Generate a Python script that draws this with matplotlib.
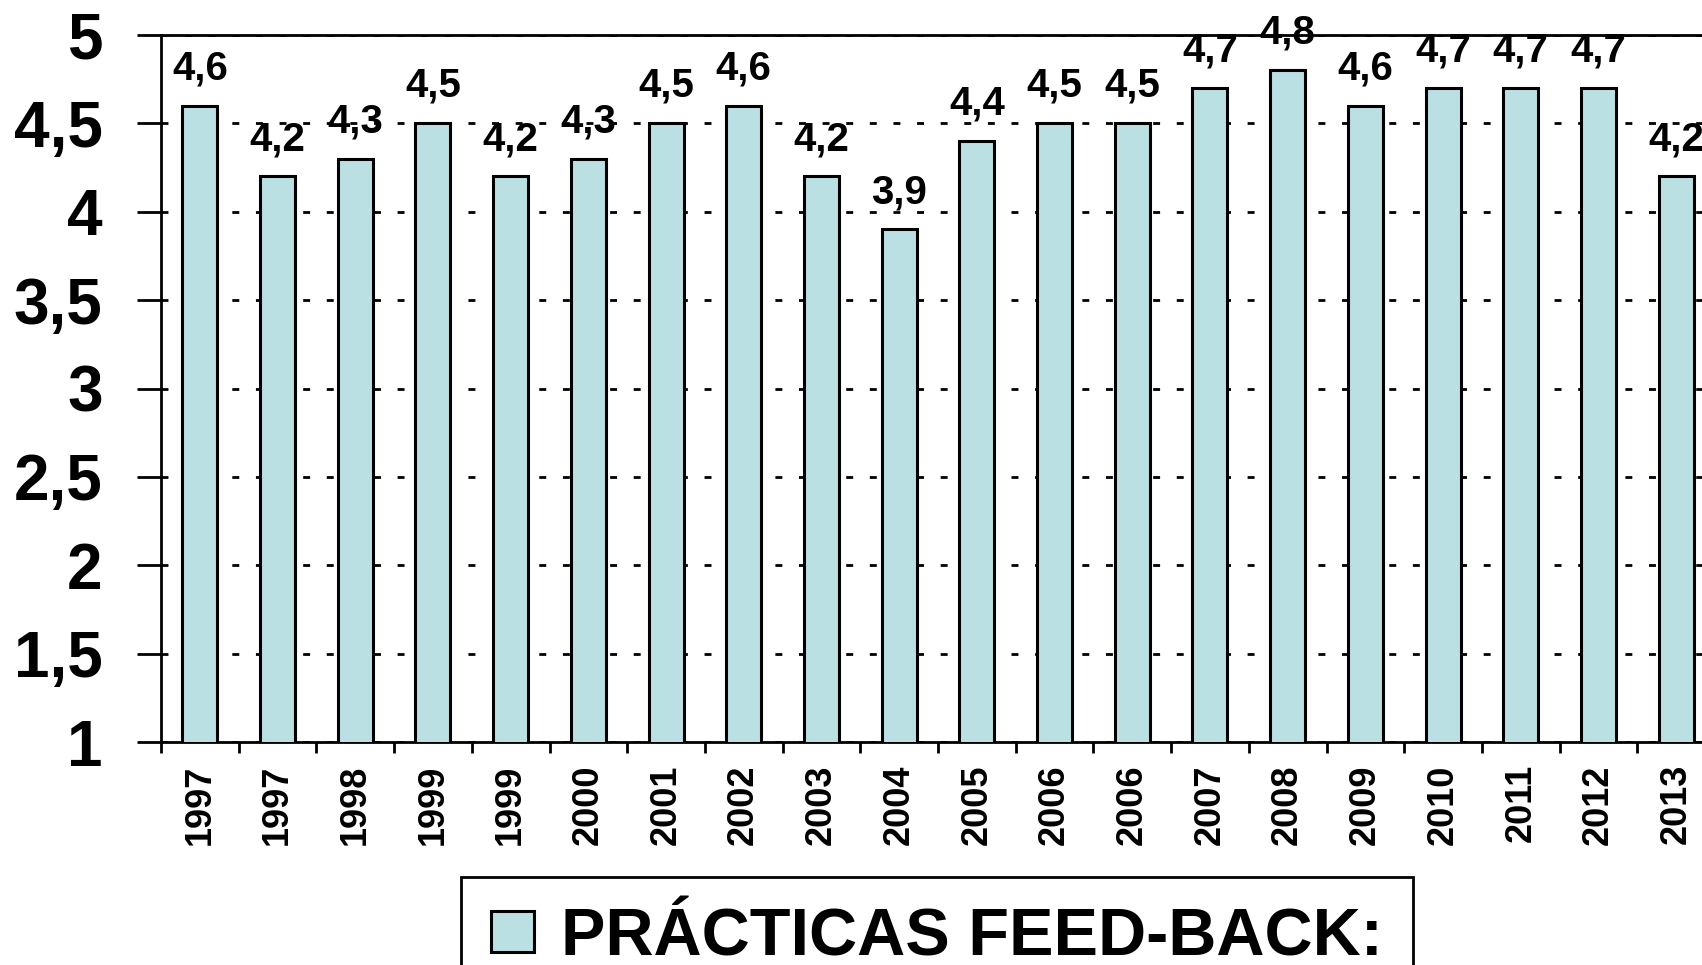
import matplotlib.pyplot as plt
from matplotlib.ticker import FixedLocator

plt.rcParams['font.family'] = ['Liberation Sans', 'DejaVu Sans']
plt.rcParams['font.weight'] = 'bold'

# Datos
years = ['1997', '1997', '1998', '1999', '1999', '2000', '2001', '2002', '2003', '2004',
         '2005', '2006', '2006', '2007', '2008', '2009', '2010', '2011', '2012', '2013']
values = [4.6, 4.2, 4.3, 4.5, 4.2, 4.3, 4.5, 4.6, 4.2, 3.9,
          4.4, 4.5, 4.5, 4.7, 4.8, 4.6, 4.7, 4.7, 4.7, 4.2]
yticks = [1, 1.5, 2, 2.5, 3, 3.5, 4, 4.5, 5]
serie = 'PRÁCTICAS FEED-BACK:'

fig = plt.figure(figsize=(17.02, 9.65), dpi=100)
ax = fig.add_axes([161 / 1702, 1 - 742 / 965, (1715 - 161) / 1702, (742 - 35) / 965])

x = list(range(len(years)))
bars = ax.bar(x, values, width=0.45, bottom=0, color='#bbe0e3', edgecolor='black',
              linewidth=2.2, zorder=3, label=serie)

# Etiquetas con coma decimal
for xi, v in zip(x, values):
    ax.annotate(f"{v:.1f}".replace('.', ','), (xi, v), xytext=(0, 19),
                textcoords='offset points', ha='center', va='baseline',
                fontsize=29, fontweight='bold')

ax.set_ylim(1, 5)
ax.set_xlim(-0.5, len(years) - 0.5)
ax.set_yticks(yticks)
ax.set_yticklabels([f"{t:g}".replace('.', ',') for t in yticks], fontsize=46, fontweight='bold')
ax.set_xticks(x)
ax.set_xticklabels(years, rotation=90, fontsize=26, fontweight='bold')
ax.xaxis.set_minor_locator(FixedLocator([i - 0.5 for i in range(len(years) + 1)]))

ax.tick_params(axis='x', which='major', length=0, pad=16)
ax.tick_params(axis='x', which='minor', length=8, width=2, direction='out')
ax.tick_params(axis='y', length=17, width=2, direction='out', pad=25)

ax.yaxis.grid(True, color='black', linestyle=(0, (2.5, 6)), linewidth=2, zorder=0)
for s in ax.spines.values():
    s.set_linewidth(2)

fig.legend(loc='upper center', bbox_to_anchor=(937 / 1702, 1 - 877 / 965),
           prop={'size': 48, 'weight': 'bold'}, frameon=True, fancybox=False,
           edgecolor='black', framealpha=1, handlelength=0.65, handleheight=0.55,
           handletextpad=0.4, borderpad=0.45, borderaxespad=0)
fig.legends[0].get_frame().set_linewidth(2)

fig.savefig('out.png', dpi=100)
